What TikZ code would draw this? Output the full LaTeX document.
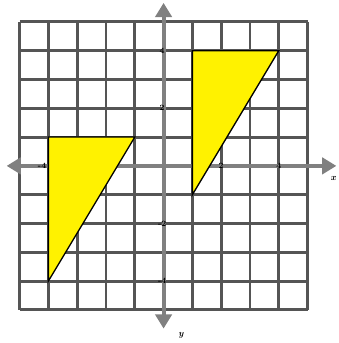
\documentclass[tikz,border=0pt]{standalone}
\usepackage{xcolor}
\usepackage{tikz}
\usetikzlibrary{arrows.meta}
\definecolor{gridgray}{RGB}{85,85,85}
\definecolor{axisgray}{RGB}{128,128,128}

\begin{document}
\begin{tikzpicture}[
  gridline/.style={draw=gridgray, line width=2.8pt},
  axisline/.style={draw=axisgray, line width=4pt,
                   {Triangle[width=16pt,length=14pt]}-{Triangle[width=16pt,length=14pt]}},
  tri/.style={fill=yellow, draw=black, line width=1.3pt, line join=miter},
  tick/.style={font=\fontsize{8}{8}\selectfont\bfseries, inner sep=0.5pt, text=black},
  axlabel/.style={font=\fontsize{9}{9}\selectfont\bfseries\itshape, inner sep=0pt},
]
\useasboundingbox (-5.68,-6.15) rectangle (6.09,5.76);

% Grid
\draw[gridline] (-5,-5) grid (5,5);

% Axes
\coordinate (xl) at (-5.45,0);
\coordinate (xr) at (6.0,0);
\coordinate (yb) at (0,-5.65);
\coordinate (yt) at (0,5.66);
\draw[axisline] (xl) -- (xr);
\draw[axisline] (yb) -- (yt);

% Triangles
\coordinate (a1) at (-4,1);
\coordinate (a2) at (-1,1);
\coordinate (a3) at (-4,-4);
\coordinate (b1) at (1,4);
\coordinate (b2) at (4,4);
\coordinate (b3) at (1,-1);
\filldraw[tri] (a1) -- (a2) -- (a3) -- cycle;
\filldraw[tri] (b1) -- (b2) -- (b3) -- cycle;

% Tick labels
\foreach \v/\n in {4/p4, 2/p2, -2/m2, -4/m4}
  \node[tick] (ly\n) at (-0.05,\v) {\v};
\node[tick, anchor=east] (lxm4) at (-4.05,0) {-4};
\foreach \v/\n in {2/p2, 4/p4}
  \node[tick] (lx\n) at (\v,0) {\v};

% Axis labels
\node[axlabel] (xname) at (5.89,-0.45) {x};
\node[axlabel] (yname) at (0.6,-5.9) {y};

\end{tikzpicture}
\end{document}
